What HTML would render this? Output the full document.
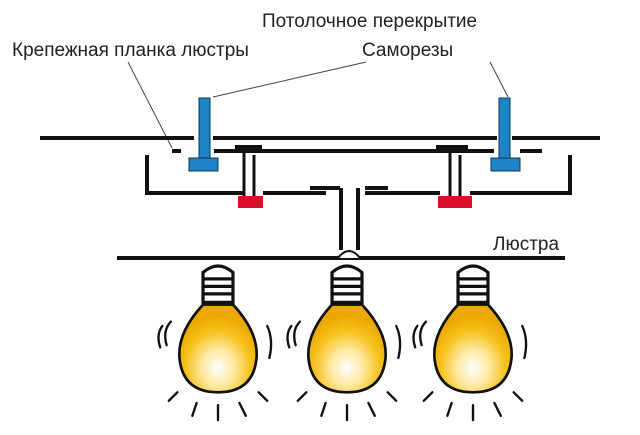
<!DOCTYPE html>
<html><head><meta charset="utf-8"><style>
body{margin:0;background:#fff}
text{font-family:"Liberation Sans",sans-serif;font-size:19px;fill:#222}
</style></head><body>
<svg width="640" height="430" viewBox="0 0 640 430" xmlns="http://www.w3.org/2000/svg">
<defs>
<radialGradient id="g" cx="0.5" cy="0.72" r="0.6">
<stop offset="0" stop-color="#fff"/><stop offset="0.35" stop-color="#fde9a0"/><stop offset="0.7" stop-color="#f7c21c"/><stop offset="1" stop-color="#eaa800"/>
</radialGradient>
<g id="bulb">
<path d="M-14,20 L-14,-8 Q0,-20 14,-8 L14,20 Z" fill="#fff" stroke="#111" stroke-width="3"/>
<line x1="-14" y1="-2" x2="14" y2="-2" stroke="#111" stroke-width="3"/>
<line x1="-14" y1="5" x2="14" y2="5" stroke="#111" stroke-width="3"/>
<line x1="-14" y1="12" x2="14" y2="12" stroke="#111" stroke-width="3"/>
<path d="M-14,22 L14,22 Q38,48 36,72 Q33,104 0,104 Q-33,104 -36,72 Q-38,48 -14,22 Z" fill="url(#g)" stroke="#111" stroke-width="2.5"/>
<g stroke="#111" stroke-width="2.2" fill="none" stroke-linecap="round">
<path d="M-48,60 Q-52,46 -44,38"/><path d="M-54,62 Q-58,50 -52,42"/>
<path d="M46,42 Q52,55 48,72"/>
<path d="M-38,104 L-46,112"/><path d="M-20,114 L-24,126"/><path d="M0,116 L0,130"/><path d="M20,114 L26,126"/><path d="M38,104 L46,112"/>
</g>
</g>
</defs>
<text x="262" y="27">Потолочное перекрытие</text>
<text x="12" y="56">Крепежная планка люстры</text>
<text x="362" y="56">Саморезы</text>
<text x="493" y="250">Люстра</text>
<g stroke="#444" stroke-width="1" fill="none">
<line x1="213" y1="97" x2="366" y2="62"/>
<line x1="508" y1="97" x2="490" y2="62"/>
<line x1="172" y1="148" x2="128" y2="62"/>
</g>
<g stroke="#111" stroke-width="4" fill="none">
<line x1="40" y1="138" x2="194" y2="138"/>
<line x1="213" y1="138" x2="497" y2="138"/>
<line x1="512" y1="138" x2="600" y2="138"/>
<line x1="172" y1="151" x2="181" y2="151"/>
<line x1="214" y1="151" x2="494" y2="151"/>
<line x1="520" y1="151" x2="542" y2="151"/>
<line x1="235" y1="147" x2="262" y2="147"/>
<line x1="436" y1="147" x2="468" y2="147"/>
<polyline points="147,155 147,193 243,193"/>
<polyline points="263,193 326,193"/>
<line x1="310" y1="188" x2="340" y2="188"/>
<line x1="365" y1="188" x2="388" y2="188"/>
<polyline points="365,193 440,193"/>
<polyline points="470,193 570,193 570,155"/>
<line x1="341" y1="188" x2="341" y2="250"/>
<line x1="358" y1="188" x2="358" y2="250"/>
<line x1="117" y1="258" x2="565" y2="258"/>
</g>
<g stroke="#111" stroke-width="3">
<line x1="244" y1="150" x2="244" y2="196"/><line x1="254" y1="155" x2="254" y2="196"/>
<line x1="450" y1="150" x2="450" y2="196"/><line x1="460" y1="155" x2="460" y2="196"/>
</g>
<path d="M338,258 Q349,244 360,258" fill="#fff" stroke="#111" stroke-width="2"/>
<rect x="238" y="196" width="25" height="12" fill="#d8102a"/>
<rect x="438" y="196" width="34" height="12" fill="#d8102a"/>
<g fill="#1f84c6" stroke="#0a3550" stroke-width="1">
<rect x="199" y="98" width="11" height="60"/><rect x="189" y="158" width="29" height="13"/>
<rect x="499" y="98" width="11" height="60"/><rect x="491" y="158" width="29" height="13"/>
</g>
<use href="#bulb" transform="translate(218,281) scale(1.07)"/>
<use href="#bulb" transform="translate(347,281) scale(1.07)"/>
<use href="#bulb" transform="translate(473,281) scale(1.07)"/>
</svg>
</body></html>
